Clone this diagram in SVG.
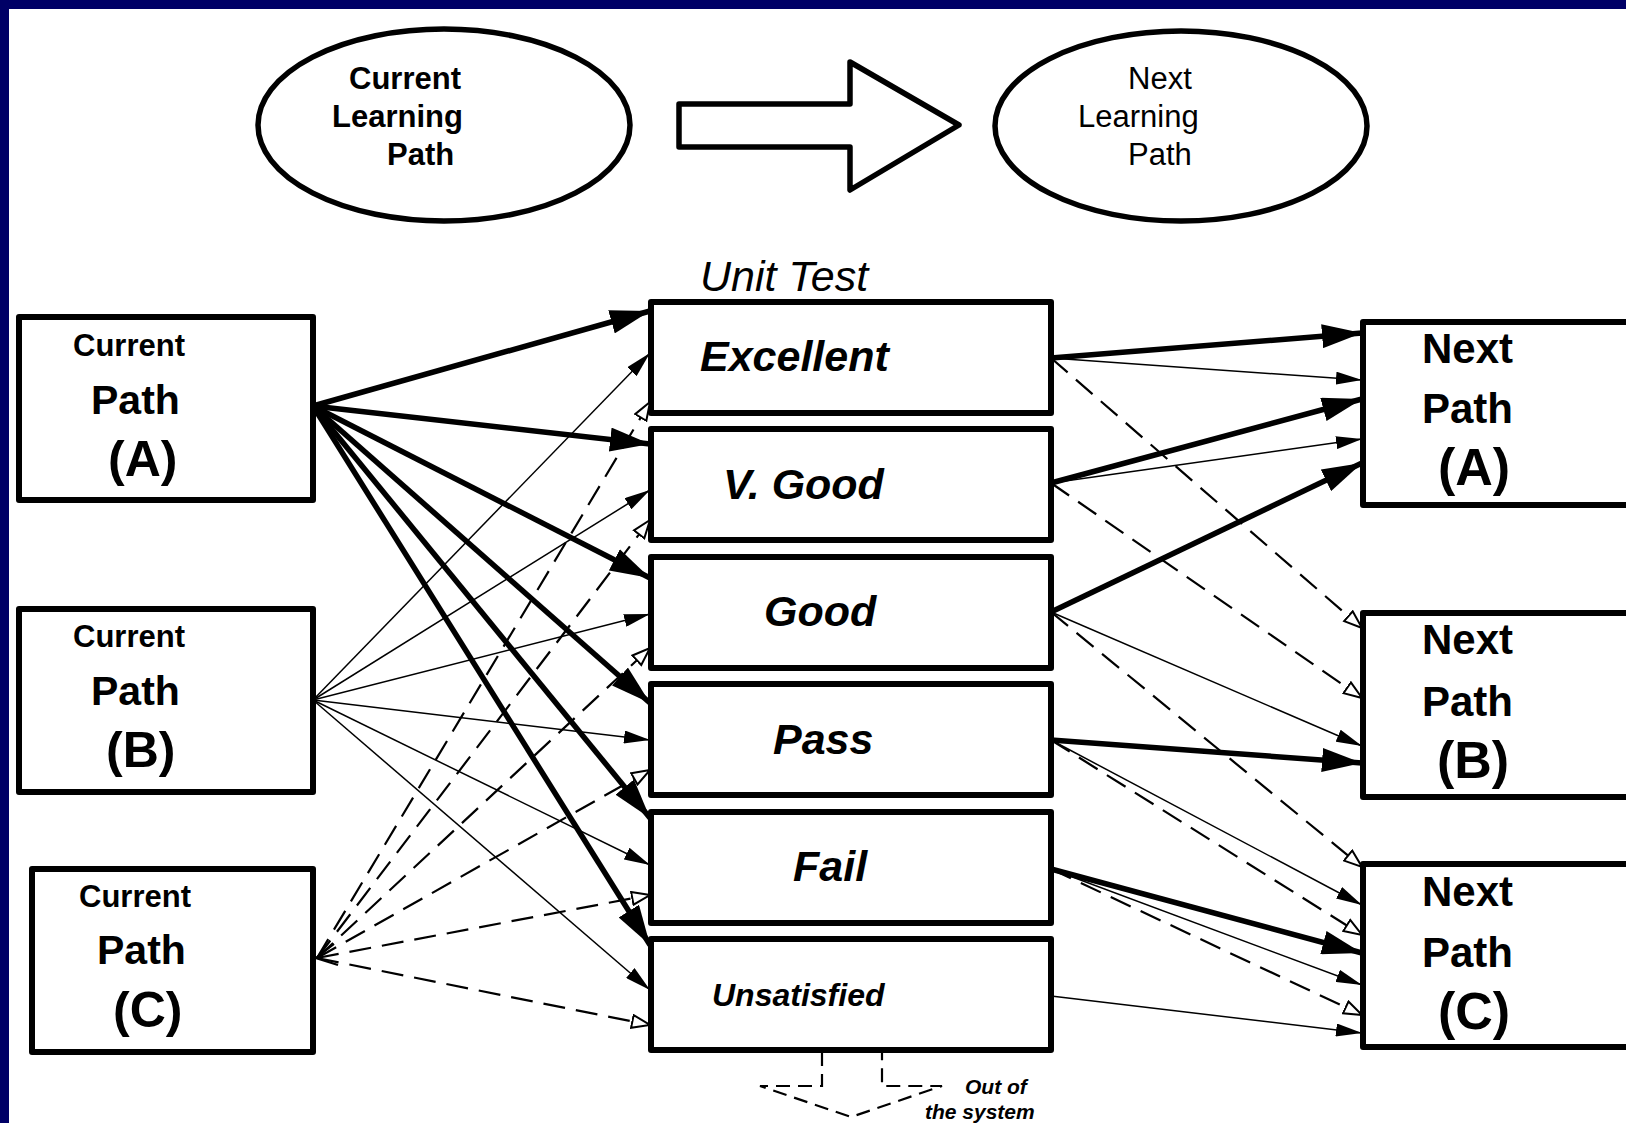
<svg xmlns="http://www.w3.org/2000/svg" width="1626" height="1123" viewBox="0 0 1626 1123">
<style>
.box{fill:#fff;stroke:#000;stroke-width:6;stroke-linejoin:round}
.ell{fill:#fff;stroke:#000;stroke-width:5.5}
.t{font-family:"Liberation Sans",Arial,sans-serif;fill:#000}
.b{font-weight:bold}
.bi{font-weight:bold;font-style:italic}
.thick{stroke:#000;stroke-width:5.5;fill:none;marker-end:url(#mThick)}
.thin{stroke:#000;stroke-width:1.5;fill:none;marker-end:url(#mThin)}
.dash{stroke:#000;stroke-width:2.2;fill:none;stroke-dasharray:22 11;marker-end:url(#mHollow)}
</style>
<defs>
<marker id="mThick" markerUnits="userSpaceOnUse" markerWidth="40" markerHeight="24" viewBox="0 0 40 24" refX="40" refY="12" orient="auto"><path d="M0,0 L40,12 L0,24 Z" fill="#000"/></marker>
<marker id="mThin" markerUnits="userSpaceOnUse" markerWidth="26" markerHeight="13" viewBox="0 0 26 13" refX="26" refY="6.5" orient="auto"><path d="M0,0 L26,6.5 L0,13 Z" fill="#000"/></marker>
<marker id="mHollow" markerUnits="userSpaceOnUse" markerWidth="20" markerHeight="16" viewBox="0 0 20 16" refX="19" refY="8" orient="auto"><path d="M1,1.5 L19,8 L1,14.5 Z" fill="#fff" stroke="#000" stroke-width="2"/></marker>
</defs>
<rect x="0" y="0" width="1626" height="1123" fill="#000066"/>
<rect x="9" y="9" width="1617" height="1114" fill="#fff"/>

<g id="current-learning-path">
<ellipse class="ell" cx="444" cy="125" rx="186" ry="96"/>
<text class="t b" font-size="31" x="349" y="89">Current</text>
<text class="t b" font-size="31" x="332" y="127">Learning</text>
<text class="t b" font-size="31" x="387" y="165">Path</text>
</g>
<g id="transition-arrow">
<polygon points="679,104 850,104 850,62 959,125 850,190 850,147 679,147" fill="#fff" stroke="#000" stroke-width="5.5" stroke-linejoin="round"/>
</g>
<g id="next-learning-path">
<ellipse class="ell" cx="1181" cy="126" rx="186" ry="95"/>
<text class="t" font-size="31" x="1128" y="89">Next</text>
<text class="t" font-size="31" x="1078" y="127">Learning</text>
<text class="t" font-size="31" x="1128" y="165">Path</text>
</g>

<text id="unit-test-label" class="t" font-style="italic" font-size="43" x="700" y="291">Unit Test</text>

<g id="current-path-a">
<rect class="box" x="19" y="317" width="294" height="183"/>
<text class="t b" font-size="31" x="73" y="356">Current</text>
<text class="t b" font-size="41" x="91" y="414">Path</text>
<text class="t b" font-size="50" x="108" y="476">(A)</text>
</g>
<g id="current-path-b">
<rect class="box" x="19" y="609" width="294" height="183"/>
<text class="t b" font-size="31" x="73" y="647">Current</text>
<text class="t b" font-size="41" x="91" y="705">Path</text>
<text class="t b" font-size="50" x="106" y="767">(B)</text>
</g>
<g id="current-path-c">
<rect class="box" x="32" y="869" width="281" height="183"/>
<text class="t b" font-size="31" x="79" y="907">Current</text>
<text class="t b" font-size="41" x="97" y="964">Path</text>
<text class="t b" font-size="50" x="113" y="1027">(C)</text>
</g>

<g id="excellent">
<rect class="box" x="651" y="302" width="400" height="111"/>
<text class="t bi" font-size="43" x="700" y="371">Excellent</text>
</g>
<g id="v-good">
<rect class="box" x="651" y="429" width="400" height="111"/>
<text class="t bi" font-size="43" x="723" y="499">V. Good</text>
</g>
<g id="good">
<rect class="box" x="651" y="557" width="400" height="111"/>
<text class="t bi" font-size="43" x="764" y="626">Good</text>
</g>
<g id="pass">
<rect class="box" x="651" y="684" width="400" height="111"/>
<text class="t bi" font-size="43" x="773" y="754">Pass</text>
</g>
<g id="fail">
<rect class="box" x="651" y="812" width="400" height="111"/>
<text class="t bi" font-size="43" x="793" y="881">Fail</text>
</g>
<g id="unsatisfied">
<rect class="box" x="651" y="939" width="400" height="111"/>
<text class="t bi" font-size="32" x="712" y="1006">Unsatisfied</text>
</g>

<g id="next-path-a">
<rect class="box" x="1363" y="322" width="280" height="183"/>
<text class="t b" font-size="42" x="1422" y="363">Next</text>
<text class="t b" font-size="42" x="1422" y="423">Path</text>
<text class="t b" font-size="52" x="1438" y="485">(A)</text>
</g>
<g id="next-path-b">
<rect class="box" x="1363" y="613" width="280" height="184"/>
<text class="t b" font-size="42" x="1422" y="654">Next</text>
<text class="t b" font-size="42" x="1422" y="716">Path</text>
<text class="t b" font-size="52" x="1437" y="778">(B)</text>
</g>
<g id="next-path-c">
<rect class="box" x="1363" y="864" width="280" height="183"/>
<text class="t b" font-size="42" x="1422" y="906">Next</text>
<text class="t b" font-size="42" x="1422" y="967">Path</text>
<text class="t b" font-size="52" x="1438" y="1029">(C)</text>
</g>

<g id="out-of-system">
<path d="M822,1052 L822,1086 L760,1086 L851,1117 L942,1086 L882,1086 L882,1052" fill="none" stroke="#000" stroke-width="2.2" stroke-dasharray="14 8"/>
<text class="t bi" font-size="21" x="965" y="1094">Out of</text>
<text class="t bi" font-size="21" x="925" y="1119">the system</text>
</g>

<g id="connectors">
<line class="thick" x1="313" y1="406" x2="650" y2="311"/>
<line class="thick" x1="313" y1="406" x2="650" y2="444"/>
<line class="thick" x1="313" y1="406" x2="650" y2="578"/>
<line class="thick" x1="313" y1="406" x2="650" y2="703"/>
<line class="thick" x1="313" y1="406" x2="650" y2="818"/>
<line class="thick" x1="313" y1="406" x2="650" y2="945"/>
<line class="thin" x1="313" y1="700" x2="650" y2="353"/>
<line class="thin" x1="313" y1="700" x2="650" y2="490"/>
<line class="thin" x1="313" y1="700" x2="650" y2="614"/>
<line class="thin" x1="313" y1="700" x2="650" y2="740"/>
<line class="thin" x1="313" y1="700" x2="650" y2="865"/>
<line class="thin" x1="313" y1="700" x2="650" y2="990"/>
<line class="dash" x1="317" y1="958" x2="650" y2="402"/>
<line class="dash" x1="317" y1="958" x2="650" y2="520"/>
<line class="dash" x1="317" y1="958" x2="650" y2="648"/>
<line class="dash" x1="317" y1="958" x2="650" y2="770"/>
<line class="dash" x1="317" y1="958" x2="650" y2="895"/>
<line class="dash" x1="317" y1="958" x2="650" y2="1025"/>
<polyline points="334,944 316,958 338,965" fill="none" stroke="#000" stroke-width="2.2"/>
<line class="thick" x1="1051" y1="358" x2="1362" y2="333"/>
<line class="thin" x1="1051" y1="358" x2="1362" y2="380"/>
<line class="dash" x1="1051" y1="358" x2="1362" y2="628"/>
<line class="thick" x1="1051" y1="483" x2="1362" y2="399"/>
<line class="thin" x1="1051" y1="483" x2="1362" y2="439"/>
<line class="dash" x1="1051" y1="483" x2="1362" y2="698"/>
<line class="thick" x1="1051" y1="612" x2="1362" y2="463"/>
<line class="thin" x1="1051" y1="612" x2="1362" y2="746"/>
<line class="dash" x1="1051" y1="612" x2="1362" y2="867"/>
<line class="thick" x1="1051" y1="740" x2="1362" y2="763"/>
<line class="thin" x1="1051" y1="740" x2="1362" y2="905"/>
<line class="dash" x1="1051" y1="740" x2="1362" y2="935"/>
<line class="thick" x1="1051" y1="869" x2="1362" y2="953"/>
<line class="thin" x1="1051" y1="869" x2="1362" y2="985"/>
<line class="dash" x1="1051" y1="869" x2="1362" y2="1015"/>
<line class="thin" x1="1051" y1="996" x2="1362" y2="1033"/>
</g>
</svg>
